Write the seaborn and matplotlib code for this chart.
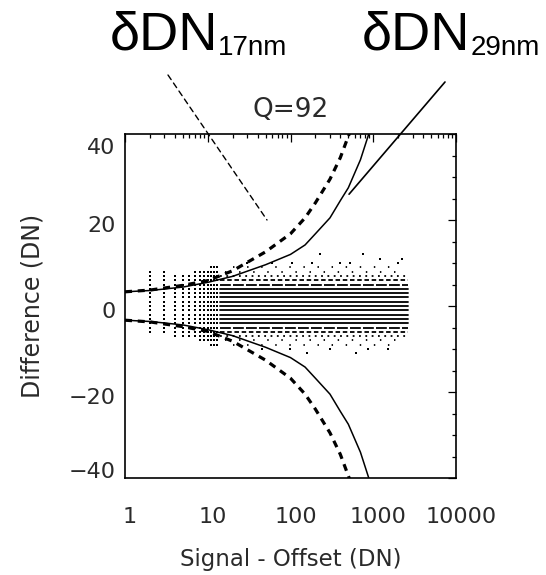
import numpy as np
import pandas as pd
import matplotlib
matplotlib.use("Agg")
import matplotlib.pyplot as plt
import matplotlib.transforms as mtransforms
from matplotlib.ticker import FixedLocator, LogLocator, NullFormatter, MultipleLocator
import seaborn as sns

# ---------------- data ----------------
# error curves (magnitude, drawn as +/-)
curve29_signal = [1, 2, 5, 10, 20, 50, 100, 150, 200, 300, 400, 500, 700, 900, 1000]
curve29_delta = [3.3, 3.6, 4.4, 5.5, 6.9, 9.6, 12.0, 14.2, 16.8, 20.5, 24.5, 27.5, 34.0, 40.5, 43.5]
curve17_signal = [1, 2, 5, 10, 20, 50, 100, 150, 200, 300, 400, 500, 560]
curve17_delta = [3.3, 3.7, 4.8, 5.9, 8.2, 12.6, 16.8, 20.5, 24.0, 29.5, 34.5, 39.5, 42.0]

# low-signal discrete columns of difference values
col_signal = [2, 3, 4, 5, 6, 7, 8, 9, 10, 11, 12, 13]
col_low = [-6, -6, -7, -7, -7, -7, -8, -8, -8, -9, -9, -9]
col_high = [8, 8, 7, 7, 7, 8, 8, 8, 8, 9, 9, 9]

# dense rows of difference values at higher signal
row_diff = [-9, -8, -7, -6, -5, -4, -3, -2, -1, 0, 1, 2, 3, 4, 5, 6, 7, 8, 9]
row_kind = ["sparse", "sparse", "dot", "short", "long", "solid", "solid", "solid", "solid", "solid",
            "solid", "solid", "solid", "solid", "long", "short", "dot", "sparse", "sparse"]
row_start = [20, 16, 14, 14, 14, 14, 14, 14, 14, 14, 14, 14, 14, 14, 14, 14, 14, 16, 20]
row_end = [1800, 2400, 2600, 2600, 2600, 2600, 2600, 2600, 2600, 2600,
           2600, 2600, 2600, 2600, 2600, 2600, 2600, 2400, 1800]

# scattered outliers
out_signal = [30, 60, 104, 183, 228, 398, 525, 750, 2240, 99, 160, 300, 860, 1500, 45, 2000, 620, 1200]
out_diff = [10, 10, 10, 10, 12, 10, 10, 12, 11, -10, -11, -10, -10, -10, -10, 10, -11, 11]

xtick_vals = [1, 10, 100, 1000, 10000]
xtick_labels = ["1", "10", "100", "1000", "10000"]
ytick_vals = [-40, -20, 0, 20, 40]
ytick_labels = ["\u221240", "\u221220", "0", "20", "40"]

# ---------------- figure ----------------
sns.set_style("white")
plt.rcParams["font.family"] = ["DejaVu Sans"]
W, H = 546, 575
fig = plt.figure(figsize=(W / 100, H / 100), dpi=100)
ax = fig.add_axes([125 / W, 1 - 478 / H, (456 - 125) / W, (478 - 134) / H])
ax.set_xscale("log")

# columns
col_pts = [(s, d) for s, lo, hi in zip(col_signal, col_low, col_high) for d in range(lo, hi + 1)]
col_df = pd.DataFrame(col_pts, columns=["signal", "diff"])
sns.scatterplot(data=col_df, x="signal", y="diff", marker="s", s=2.4, color="black",
                linewidth=0, ax=ax, legend=False)

# rows
n = len(row_diff)
row_df = pd.DataFrame({
    "signal": row_start + row_end,
    "diff": row_diff + row_diff,
    "row": list(range(n)) * 2,
    "kind": row_kind + row_kind,
})
sns.lineplot(data=row_df, x="signal", y="diff", units="row", estimator=None, style="kind",
             dashes={"solid": "", "long": (6, 1.2), "short": (2.5, 1.5), "dot": (1.0, 2.5),
                     "sparse": (0.8, 7)},
             color="black", lw=1.3, ax=ax, legend=False, sort=False)

# outliers
out_df = pd.DataFrame({"signal": out_signal, "diff": out_diff})
sns.scatterplot(data=out_df, x="signal", y="diff", marker="s", s=2.4, color="black",
                linewidth=0, ax=ax, legend=False)

# curves
def branches(sig, dlt):
    m = len(sig)
    return pd.DataFrame({"signal": sig + sig, "delta": dlt + [-v for v in dlt],
                         "branch": ["up"] * m + ["down"] * m})

sns.lineplot(data=branches(curve29_signal, curve29_delta), x="signal", y="delta", units="branch",
             estimator=None, color="black", lw=1.1, ax=ax, legend=False, sort=False)
sns.lineplot(data=branches(curve17_signal, curve17_delta), x="signal", y="delta", units="branch",
             estimator=None, color="black", lw=2.3, ax=ax, legend=False, sort=False)
for ln in ax.lines[-2:]:
    ln.set_dashes((2.2, 1.8))

ax.set_xlim(1, 10000)
ax.set_ylim(-40, 40)

# ticks
ax.xaxis.set_major_locator(FixedLocator(xtick_vals))
ax.xaxis.set_minor_locator(LogLocator(base=10, subs=np.arange(2, 10), numticks=100))
ax.xaxis.set_minor_formatter(NullFormatter())
ax.set_xticks(xtick_vals)
ax.set_xticklabels(xtick_labels)
ax.yaxis.set_major_locator(FixedLocator(ytick_vals))
ax.yaxis.set_minor_locator(MultipleLocator(5))
ax.set_yticks(ytick_vals)
ax.set_yticklabels(ytick_labels)
txtc = "#2a2a2a"
ax.tick_params(which="both", direction="in", top=True, right=True, width=0.9, color="black")
ax.tick_params(which="major", length=6)
ax.tick_params(which="minor", length=3)
ax.tick_params(axis="x", which="major", pad=21, labelsize=16, labelcolor=txtc)
ax.tick_params(axis="y", which="major", pad=7, labelsize=16, labelcolor=txtc)
for sp in ax.spines.values():
    sp.set_linewidth(1.2)
    sp.set_color("black")

ax.set_xlabel("Signal - Offset (DN)", fontsize=16.5, color=txtc, labelpad=15)
ax.set_ylabel("Difference (DN)", fontsize=17, color=txtc, labelpad=17)
ax.set_title("Q=92", fontsize=19, color=txtc, pad=12)

# shift tick labels like the reference
dy = mtransforms.ScaledTranslation(0, -4 / 100, fig.dpi_scale_trans)
dx = mtransforms.ScaledTranslation(5 / 100, 0, fig.dpi_scale_trans)
ylabs = ax.get_yticklabels()
for lab in ylabs:
    lab.set_transform(lab.get_transform() + dy)
ylabs[-1].set_verticalalignment("top")
ylabs[0].set_verticalalignment("bottom")
for lab in ax.get_xticklabels():
    lab.set_transform(lab.get_transform() + dx)

# annotation labels
afont = ["Liberation Sans", "DejaVu Sans"]
t1 = fig.text(110 / W, 1 - 50 / H, "\u03b4DN", fontsize=39, family=afont, color="black",
              va="baseline", ha="left")
ax.annotate("17nm", xy=(1, 0), xycoords=t1, xytext=(0, 4), textcoords="offset points",
            fontsize=20, family=afont, color="black", va="baseline", ha="left",
            annotation_clip=False)
t2 = fig.text(362 / W, 1 - 50 / H, "\u03b4DN", fontsize=39, family=afont, color="black",
              va="baseline", ha="left")
ax.annotate("29nm", xy=(1, 0), xycoords=t2, xytext=(0, 4), textcoords="offset points",
            fontsize=20, family=afont, color="black", va="baseline", ha="left",
            annotation_clip=False)

# pointer lines
ax.annotate("", xy=(52, 20), xycoords="data", xytext=(168 / W, 1 - 75 / H),
            textcoords="figure fraction",
            arrowprops=dict(arrowstyle="-", color="black", lw=1.0, linestyle=(0, (4, 3)),
                            shrinkA=0, shrinkB=0), annotation_clip=False)
ax.annotate("", xy=(510, 26), xycoords="data", xytext=(445 / W, 1 - 82 / H),
            textcoords="figure fraction",
            arrowprops=dict(arrowstyle="-", color="black", lw=1.2, shrinkA=0, shrinkB=0),
            annotation_clip=False)

fig.savefig("out.png", dpi=100, facecolor="white")
